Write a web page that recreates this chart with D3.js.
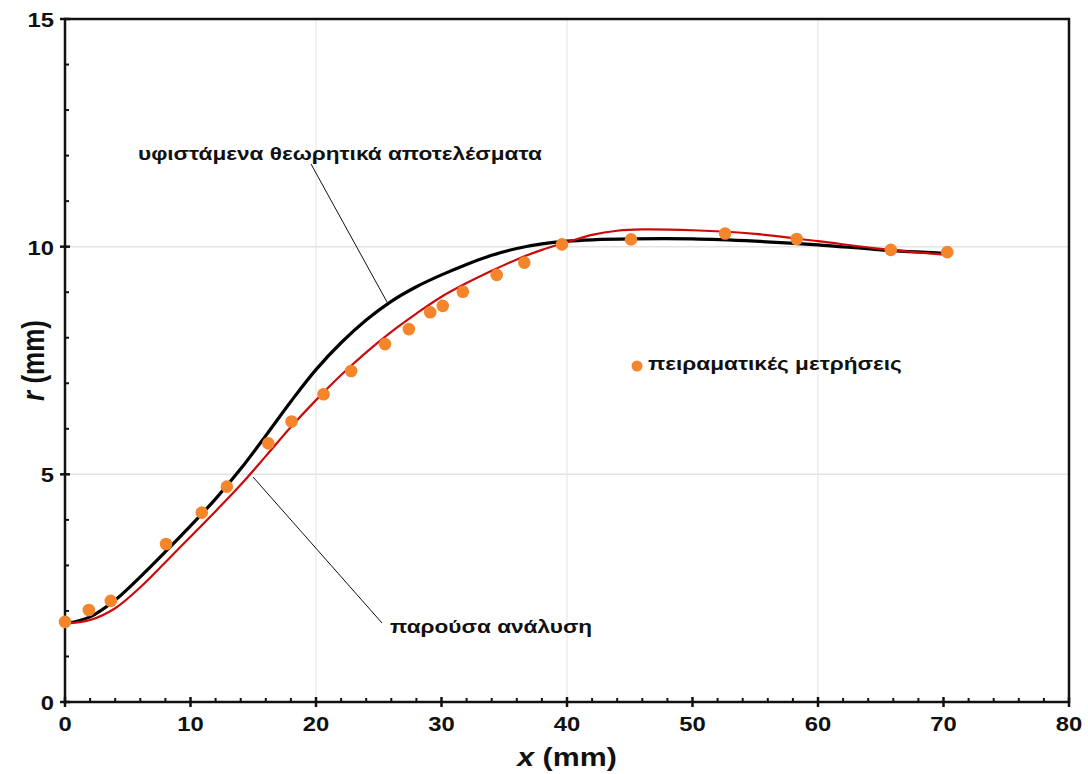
<!DOCTYPE html>
<html>
<head>
<meta charset="utf-8">
<script src="https://cdn.jsdelivr.net/npm/d3@7"></script>
<style>
  html, body { margin: 0; padding: 0; background: #fff; }
  svg text { font-family: "Liberation Sans", Arial, sans-serif; font-weight: bold; fill: #111; }
</style>
</head>
<body>
<svg id="chart" width="1088" height="774"></svg>
<script>
// Measured profile r(x)
const measX = [0, 1.9, 3.65, 8.05, 10.9, 12.9, 16.2, 18.05, 20.6, 22.8, 25.5, 27.4, 29.1, 30.1, 31.7, 34.4, 36.6, 39.6, 45.1, 52.6, 58.3, 65.8, 70.3];
const measR = [1.76, 2.02, 2.22, 3.47, 4.16, 4.73, 5.68, 6.16, 6.76, 7.27, 7.86, 8.19, 8.56, 8.70, 9.01, 9.38, 9.65, 10.05, 10.16, 10.29, 10.17, 9.93, 9.88];

// Existing theoretical results
const theoX = [0, 2, 4, 6, 8, 10, 12, 14, 16, 18, 20, 22, 24, 26, 28, 30, 32, 34, 36, 38, 40, 42, 45, 50, 55, 60, 65, 70.3];
const theoR = [1.72, 1.87, 2.24, 2.75, 3.3, 3.87, 4.46, 5.12, 5.85, 6.6, 7.3, 7.89, 8.39, 8.8, 9.12, 9.38, 9.61, 9.81, 9.96, 10.06, 10.12, 10.15, 10.17, 10.17, 10.12, 10.04, 9.93, 9.85];

// Present analysis
const presX = [0, 2, 4, 6, 8, 10, 12, 14, 16, 18, 20, 22, 24, 26, 28, 30, 32, 34, 36, 38, 40, 42, 44, 46, 50, 55, 60, 65, 70.3];
const presR = [1.72, 1.8, 2.06, 2.52, 3.07, 3.63, 4.19, 4.77, 5.4, 6.04, 6.63, 7.18, 7.68, 8.13, 8.53, 8.9, 9.2, 9.47, 9.72, 9.93, 10.1, 10.26, 10.35, 10.38, 10.36, 10.28, 10.12, 9.95, 9.82];

const xTicks = [0, 10, 20, 30, 40, 50, 60, 70, 80];
const yTicks = [0, 5, 10, 15];

const labelTheory = "υφιστάμενα θεωρητικά αποτελέσματα";
const labelPresent = "παρούσα ανάλυση";
const labelMeasured = "πειραματικές μετρήσεις";

const svg = d3.select("#chart");
const plotL = 65, plotR = 1069, plotT = 19, plotB = 702;
const SX = 1.19; // horizontal widening of the lettering

const x = d3.scaleLinear().domain([0, 80]).range([plotL, plotR]);
const y = d3.scaleLinear().domain([0, 15]).range([plotB, plotT]);

// text placed at (px,py), widened horizontally around its anchor
function label(sel, px, py, size, anchor) {
  return sel.append("text")
    .attr("transform", `translate(${px},${py}) scale(${SX},1)`)
    .attr("font-size", size).attr("text-anchor", anchor || "start");
}

// light grid
const g = svg.append("g");
g.selectAll("line.gx").data([20, 40, 60]).join("line")
  .attr("x1", d => x(d)).attr("x2", d => x(d)).attr("y1", plotT).attr("y2", plotB)
  .attr("stroke", "#e3e3e3").attr("stroke-width", 1);
g.selectAll("line.gy").data([5, 10]).join("line")
  .attr("y1", d => y(d)).attr("y2", d => y(d)).attr("x1", plotL).attr("x2", plotR)
  .attr("stroke", "#e3e3e3").attr("stroke-width", 1.5);

// minor ticks (inside)
const minorX = d3.range(0, 81, 2).filter(v => v % 10 !== 0);
const minorY = d3.range(0, 16, 1).filter(v => v % 5 !== 0);
svg.append("g").selectAll("line").data(minorX).join("line")
  .attr("x1", d => x(d)).attr("x2", d => x(d)).attr("y1", plotB).attr("y2", plotB - 4)
  .attr("stroke", "#111").attr("stroke-width", 2);
svg.append("g").selectAll("line").data(minorY).join("line")
  .attr("y1", d => y(d)).attr("y2", d => y(d)).attr("x1", plotL).attr("x2", plotL + 4)
  .attr("stroke", "#111").attr("stroke-width", 2);

// major ticks crossing the axes
svg.append("g").selectAll("line").data(xTicks).join("line")
  .attr("x1", d => x(d)).attr("x2", d => x(d)).attr("y1", plotB + 5).attr("y2", plotB - 5)
  .attr("stroke", "#111").attr("stroke-width", 2.5);
svg.append("g").selectAll("line").data(yTicks).join("line")
  .attr("y1", d => y(d)).attr("y2", d => y(d)).attr("x1", plotL - 5).attr("x2", plotL + 5)
  .attr("stroke", "#111").attr("stroke-width", 2.5);

// frame
svg.append("rect").attr("x", plotL).attr("y", plotT).attr("width", plotR - plotL).attr("height", plotB - plotT)
  .attr("fill", "none").attr("stroke", "#111").attr("stroke-width", 2.5);

// tick labels
xTicks.forEach(v => label(svg, x(v), plotB + 29, 20, "middle").text(v));
yTicks.forEach(v => label(svg, plotL - 11, y(v) + 8, 20, "end").text(v));

// axis titles
const xt = label(svg, x(40), 766, 25.5, "middle");
xt.append("tspan").attr("font-style", "italic").text("x");
xt.append("tspan").text(" (mm)");
const yt = svg.append("text")
  .attr("transform", `translate(44,${y(7.5)}) scale(${SX},1) rotate(-90)`)
  .attr("text-anchor", "middle").attr("font-size", 26);
yt.append("tspan").attr("font-style", "italic").text("r");
yt.append("tspan").text(" (mm)");

const line = d3.line().x(d => x(d[0])).y(d => y(d[1])).curve(d3.curveCatmullRom.alpha(0.5));

// theoretical curve
svg.append("path").datum(d3.zip(theoX, theoR)).attr("d", line)
  .attr("fill", "none").attr("stroke", "#000").attr("stroke-width", 3.2);
// present analysis curve
svg.append("path").datum(d3.zip(presX, presR)).attr("d", line)
  .attr("fill", "none").attr("stroke", "#cc0a0a").attr("stroke-width", 2.2);

// measurements
svg.append("g").selectAll("circle").data(d3.zip(measX, measR)).join("circle")
  .attr("cx", d => x(d[0])).attr("cy", d => y(d[1])).attr("r", 6.3)
  .attr("fill", "#f5852a");

// annotations with leader lines
svg.append("line").attr("x1", 311).attr("y1", 164).attr("x2", 387).attr("y2", 302)
  .attr("stroke", "#111").attr("stroke-width", 1);
label(svg, 138, 160, 19).text(labelTheory);

svg.append("line").attr("x1", 253).attr("y1", 477).attr("x2", 382).attr("y2", 623)
  .attr("stroke", "#111").attr("stroke-width", 1);
label(svg, 390, 633, 19).text(labelPresent);

svg.append("circle").attr("cx", 637).attr("cy", 366).attr("r", 5.5).attr("fill", "#f5852a");
label(svg, 648, 370, 19).text(labelMeasured);
</script>
</body>
</html>
